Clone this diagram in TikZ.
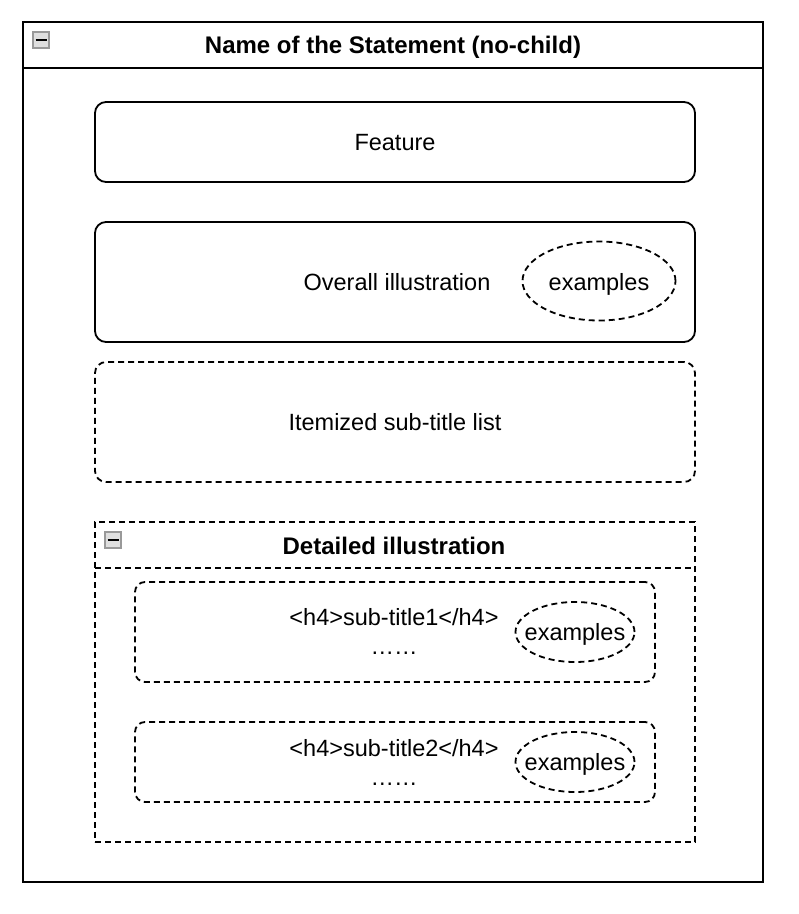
\documentclass[tikz,border=0pt]{standalone}
\usepackage{fontspec}
\setmainfont{Liberation Sans}
\usetikzlibrary{shapes.geometric}
\begin{document}
\begin{tikzpicture}[x=1pt,y=-1pt,
  every node/.style={font=\fontsize{23.5}{29}\selectfont, inner sep=0pt},
  solidbox/.style={draw=black, line width=1.8pt, rounded corners=11pt},
  dashbox/.style={draw=black, line width=1.8pt, rounded corners=11pt, dash pattern=on 6pt off 4pt},
  dashrect/.style={draw=black, line width=1.8pt, dash pattern=on 6pt off 4pt},
  exell/.style={draw=black, line width=1.8pt, dash pattern=on 6pt off 4pt},
  titletext/.style={font=\fontsize{24}{29}\selectfont\bfseries},
  collapse/.style={draw=gray!80, fill=gray!25, line width=1.2pt, minimum width=16pt, minimum height=16pt}
]
\useasboundingbox (0,0) rectangle (799,914);
\fill[white] (0,0) rectangle (799,914);

% outer container
\node[draw=black, line width=1.8pt, minimum width=740pt, minimum height=860pt] (outer) at (393,452) {};
\draw[line width=1.8pt] (23,68) -- (763,68);
\node[titletext, anchor=base] (title) at (393,53) {Name of the Statement (no-child)};
\node[collapse] (icon1) at (41,40) {};
\draw[line width=2pt] (35.5,40) -- (46.5,40);

% feature
\node[solidbox, minimum width=600pt, minimum height=80pt] (feature) at (395,142) {};
\node[anchor=base] (featuretext) at (395,150) {Feature};

% overall
\node[solidbox, minimum width=600pt, minimum height=120pt] (overall) at (395,282) {};
\node[anchor=base] (overalltext) at (397,290) {Overall illustration};
\coordinate (ex0c) at (599,281);
\draw[exell] (ex0c) ellipse [x radius=76.5pt, y radius=39.5pt];
\node[anchor=base] (ex0) at (599,290) {examples};

% itemized
\node[dashbox, minimum width=600pt, minimum height=120pt] (itemized) at (395,422) {};
\node[anchor=base] (itemizedtext) at (395,430) {Itemized sub-title list};

% detailed
\node[dashrect, minimum width=600pt, minimum height=320pt] (detailed) at (395,682) {};
\draw[line width=1.8pt, dash pattern=on 6pt off 4pt] (95,568) -- (695,568);
\node[titletext, anchor=base] (dtitle) at (394,554) {Detailed illustration};
\node[collapse] (icon2) at (113,540) {};
\draw[line width=2pt] (107.5,540) -- (118.5,540);

% sub 1
\node[dashbox, rounded corners=10pt, minimum width=520pt, minimum height=100pt] (sub1) at (395,632) {};
\node[anchor=base] (sub1a) at (394,625) {<h4>sub-title1</h4>};
\node[anchor=base] (sub1b) at (394,654) {……};
\coordinate (ex1c) at (575,632);
\draw[exell] (ex1c) ellipse [x radius=59.5pt, y radius=30pt];
\node[anchor=base] (ex1) at (575,640) {examples};

% sub 2
\node[dashbox, rounded corners=10pt, minimum width=520pt, minimum height=80pt] (sub2) at (395,762) {};
\node[anchor=base] (sub2a) at (394,756) {<h4>sub-title2</h4>};
\node[anchor=base] (sub2b) at (394,785) {……};
\coordinate (ex2c) at (575,762);
\draw[exell] (ex2c) ellipse [x radius=59.5pt, y radius=30pt];
\node[anchor=base] (ex2) at (575,770) {examples};
\end{tikzpicture}
\end{document}
